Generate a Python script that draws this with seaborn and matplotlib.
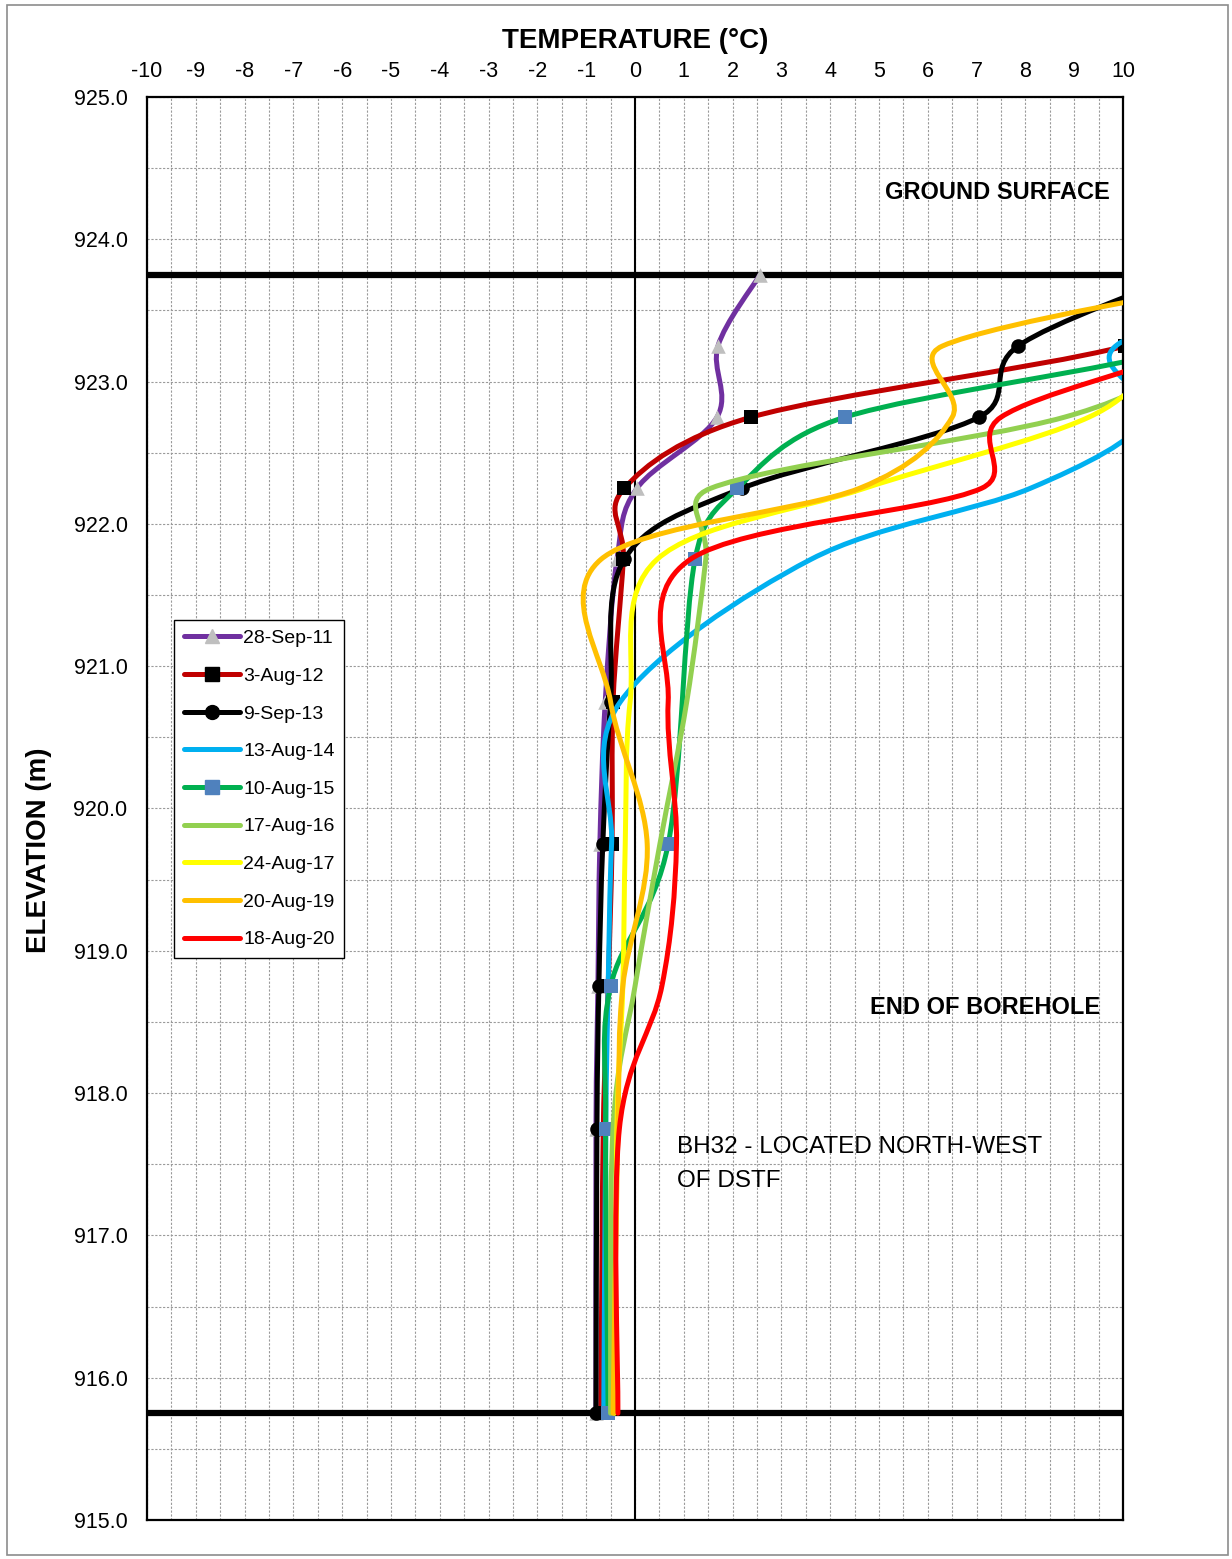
import matplotlib
matplotlib.use("Agg")
import matplotlib.pyplot as plt
import numpy as np
import pandas as pd
import seaborn as sns
from matplotlib.path import Path
from matplotlib.patches import PathPatch, Rectangle
from matplotlib.lines import Line2D

# elevations of the thermistor readings (m)
elevacao = [923.75, 923.25, 922.75, 922.25, 921.75, 920.75, 919.75, 918.75, 917.75, 915.75]

# temperature readings (deg C) for each survey date (None = no reading)
t_2011 = [2.56, 1.70, 1.68, 0.04, -0.37, -0.61, -0.72, -0.76, -0.80, -0.80]
t_2012 = [14.0, 10.05, 2.38, -0.22, -0.24, -0.45, -0.47, -0.55, -0.65, -0.70]
t_2013 = [11.2, 7.85, 7.05, 2.19, -0.22, -0.50, -0.66, -0.74, -0.78, -0.80]
t_2014 = [14.0, 9.85, 10.5, 8.1, 3.6, -0.30, -0.48, -0.55, -0.60, -0.64]
t_2015 = [14.0, 11.4, 4.30, 2.10, 1.23, None, 0.68, -0.50, -0.60, -0.55]
t_2016 = [15.0, 12.0, 8.8, 1.55, 1.45, 1.06, 0.51, 0.0, -0.45, -0.50]
t_2017 = [13.0, 11.0, 9.3, 4.7, 0.45, -0.10, -0.20, -0.25, -0.37, -0.42]
t_2019 = [13.0, 6.3, 6.5, 4.6, -0.70, -0.50, 0.25, -0.25, -0.35, -0.45]
t_2020 = [14.0, 11.5, 7.5, 7.1, 1.13, 0.68, 0.85, 0.55, -0.32, -0.35]

datas = ['28-Sep-11', '3-Aug-12', '9-Sep-13', '13-Aug-14', '10-Aug-15',
         '17-Aug-16', '24-Aug-17', '20-Aug-19', '18-Aug-20']
series = [t_2011, t_2012, t_2013, t_2014, t_2015, t_2016, t_2017, t_2019, t_2020]
cores = ['#7030A0', '#C00000', '#000000', '#00B0F0', '#00B050',
         '#92D050', '#FFFF00', '#FFC000', '#FF0000']
# marcadores (None = sem marcador)
marcadores = [('^', '#BFBFBF'), ('s', '#000000'), ('o', '#000000'), None,
              ('s', '#4F81BD'), None, None, None, None]

ticks_temp = list(range(-10, 11))
ticks_elev = list(range(915, 926))

ground = 923.75
fundo = 915.75

# escala aproximada em pixels por unidade (para a suavizacao tipo Excel)
SX = 976 / 20
SY = 1423 / 10


def curva_suave(xs, ys):
    # linha suavizada estilo Excel: bezier pelos pontos medidos,
    # controles limitados a metade do segmento (em pixels)
    p = np.column_stack([np.array(xs, float) * SX, np.array(ys, float) * SY])
    n = len(p)
    verts = [p[0]]
    codes = [Path.MOVETO]
    for i in range(n - 1):
        p0 = p[max(i - 1, 0)]
        p1 = p[i]
        p2 = p[i + 1]
        p3 = p[min(i + 2, n - 1)]
        d12 = np.hypot(*(p2 - p1))
        d02 = np.hypot(*(p2 - p0))
        d13 = np.hypot(*(p3 - p1))
        f0 = 1 / 6 if d02 / 6 < d12 / 2 else d12 / d02 / 2
        f1 = 1 / 6 if d13 / 6 < d12 / 2 else d12 / d13 / 2
        verts += [p1 + (p2 - p0) * f0, p2 - (p3 - p1) * f1, p2]
        codes += [Path.CURVE4] * 3
    verts = np.array(verts) / [SX, SY]
    return Path(verts, codes)


sns.set_style("white")
plt.rcParams['font.family'] = ['Liberation Sans', 'DejaVu Sans']
plt.rcParams['axes.unicode_minus'] = False
for k in ['text.color', 'axes.labelcolor', 'xtick.color', 'ytick.color']:
    plt.rcParams[k] = 'black'

fig = plt.figure(figsize=(12.32, 15.59), dpi=100)
ax = fig.add_axes([147 / 1232, 1 - 1520 / 1559, 976 / 1232, 1423 / 1559])

ax.set_xlim(-10, 10)
ax.set_ylim(915, 925)

# grade
ax.set_xticks(ticks_temp)
ax.set_xticks(np.arange(-10, 10.01, 0.5), minor=True)
ax.set_yticks(ticks_elev)
ax.set_yticks(np.arange(915, 925.01, 0.5), minor=True)
ax.grid(True, which='both', color='#9A9A9A', linestyle=(0, (2, 1.5)), linewidth=0.8)
ax.set_axisbelow(True)
ax.set_yticklabels([f'{v:.1f}' for v in ticks_elev])
ax.xaxis.tick_top()
ax.tick_params(axis='both', which='both', length=0)
ax.tick_params(axis='x', labelsize=15.5, pad=11)
ax.tick_params(axis='y', labelsize=15.5, pad=14)
for s in ax.spines.values():
    s.set_visible(True)
    s.set_color('black')
    s.set_linewidth(1.6)

ax.axvline(0, color='black', lw=1.5, zorder=1.5)
ax.axhline(ground, color='black', lw=4.5, zorder=1.6)
ax.axhline(fundo, color='black', lw=4.5, zorder=1.6)

handles = []
for i, (nome, temps, cor, mk) in enumerate(zip(datas, series, cores, marcadores)):
    df = pd.DataFrame({'temp': temps, 'elev': elevacao}).dropna()
    z = 2 + i * 0.1
    patch = PathPatch(curva_suave(df['temp'], df['elev']), facecolor='none', edgecolor=cor,
                      lw=3.6, capstyle='round', joinstyle='round', zorder=z)
    ax.add_patch(patch)
    if mk is not None:
        sns.scatterplot(data=df, x='temp', y='elev', marker=mk[0], color=mk[1],
                        s=110, linewidth=0, ax=ax, zorder=z + 0.05, legend=False)
        handles.append(Line2D([], [], color=cor, lw=3.6, solid_capstyle='round',
                              marker=mk[0], markersize=10, markerfacecolor=mk[1],
                              markeredgecolor=mk[1], label=nome))
    else:
        handles.append(Line2D([], [], color=cor, lw=3.6, solid_capstyle='round', label=nome))

ax.set_xlim(-10, 10)
ax.set_ylim(915, 925)

ax.xaxis.set_label_position('top')
ax.set_xlabel('TEMPERATURE (°C)', fontsize=20, fontweight='bold', labelpad=9)
ax.set_ylabel('ELEVATION (m)', fontsize=20, fontweight='bold')
ax.yaxis.set_label_coords(-0.097, 0.471)

ax.text(9.73, 924.33, 'GROUND SURFACE', fontsize=17, fontweight='bold', ha='right', va='center')
ax.text(9.53, 918.605, 'END OF BOREHOLE', fontsize=17, fontweight='bold', ha='right', va='center')
ax.text(0.86, 917.70, 'BH32 - LOCATED NORTH-WEST\nOF DSTF', fontsize=17.5, ha='left', va='top',
        linespacing=1.72)

leg = ax.legend(handles=handles, loc='upper left', bbox_to_anchor=(0.0277, 0.6325),
                borderaxespad=0, fontsize=14, handlelength=2.9, handletextpad=0.15,
                labelspacing=1.03, numpoints=1, fancybox=False, framealpha=1,
                borderpad=0.5)
leg.get_frame().set_edgecolor('black')
leg.get_frame().set_linewidth(1.0)

# moldura externa
fig.patches.append(Rectangle((7 / 1232, 4 / 1559), 1221 / 1232, 1550 / 1559,
                             transform=fig.transFigure, fill=False,
                             edgecolor='#8C8C8C', lw=1.2))

fig.savefig('out.png', dpi=100)
